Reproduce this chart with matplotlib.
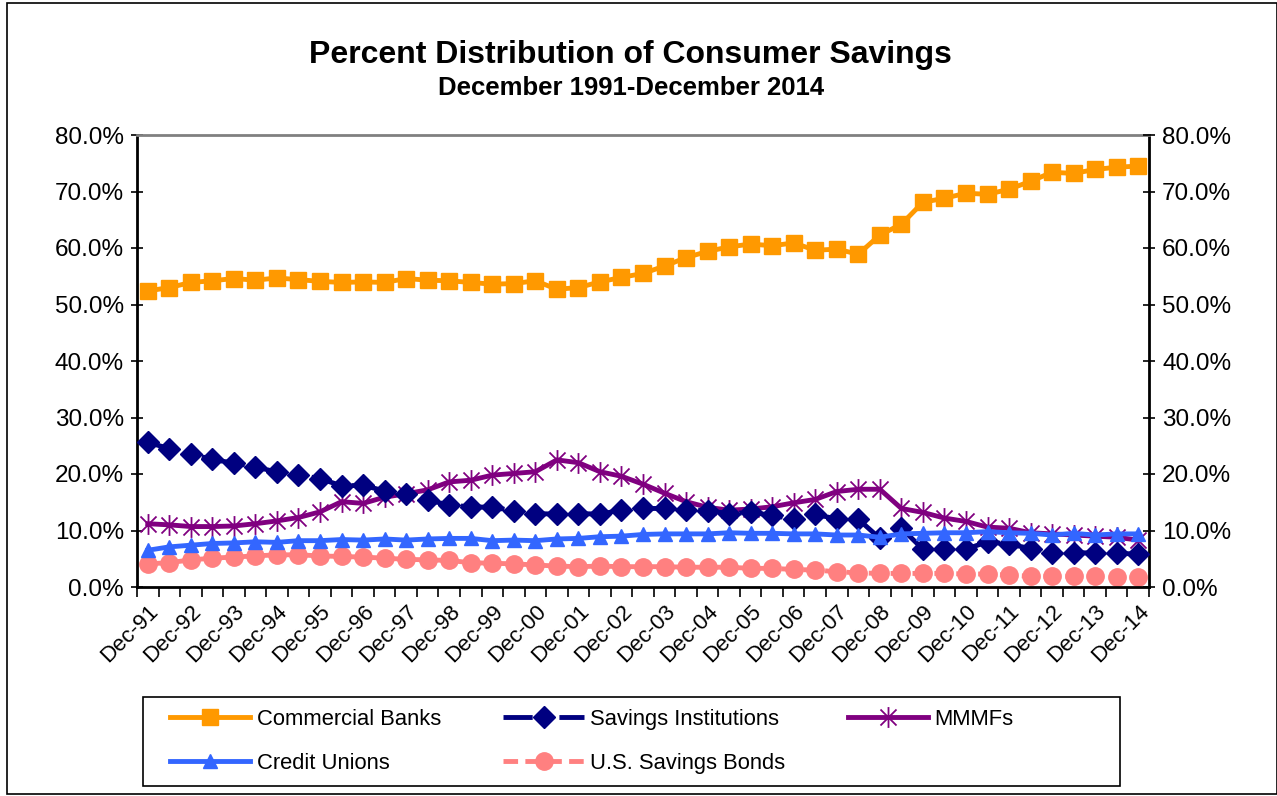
import matplotlib
matplotlib.use("Agg")
import matplotlib.pyplot as plt
import numpy as np
from matplotlib.path import Path
from matplotlib.patches import Rectangle
from matplotlib.ticker import FuncFormatter, FixedLocator

plt.rcParams['font.family'] = ['Liberation Sans', 'DejaVu Sans']

# semi-annual periods, Dec-91 .. Dec-14
years = list(range(91, 100)) + list(range(0, 15))
dec_labels = ['Dec-%02d' % y for y in years]

commercial_banks = [52.4, 53.0, 53.9, 54.2, 54.6, 54.3, 54.7, 54.4, 54.1, 53.9,
                    54.0, 53.9, 54.6, 54.3, 54.2, 53.9, 53.6, 53.7, 54.2, 52.7,
                    53.0, 54.0, 54.8, 55.5, 56.8, 58.3, 59.4, 60.2, 60.7, 60.4,
                    60.9, 59.6, 59.8, 58.9, 62.3, 64.2, 68.1, 68.8, 69.7, 69.5,
                    70.4, 71.8, 73.4, 73.2, 73.9, 74.3, 74.5]
savings_institutions = [25.6, 24.5, 23.5, 22.6, 21.9, 21.3, 20.3, 19.8, 19.2, 17.9,
                        18.0, 17.0, 16.5, 15.4, 14.5, 14.2, 14.1, 13.5, 13.0, 12.9,
                        13.0, 12.9, 13.6, 13.9, 13.9, 13.7, 13.5, 13.0, 13.2, 12.7,
                        12.0, 12.9, 12.0, 12.0, 8.6, 10.4, 6.7, 6.8, 6.7, 8.0,
                        7.6, 6.8, 6.0, 6.1, 6.0, 6.0, 5.8]
mmmfs = [11.2, 11.0, 10.7, 10.7, 10.8, 11.2, 11.7, 12.3, 13.3, 15.1,
         14.8, 15.9, 16.5, 17.2, 18.6, 18.9, 19.8, 20.1, 20.4, 22.5,
         22.0, 20.4, 19.6, 18.2, 16.6, 15.1, 14.1, 13.6, 13.8, 14.2,
         14.9, 15.5, 16.9, 17.3, 17.3, 13.9, 13.2, 12.2, 11.6, 10.6,
         10.4, 9.6, 9.4, 9.2, 9.0, 8.8, 8.3]
credit_unions = [6.5, 7.1, 7.4, 7.7, 7.8, 8.0, 7.9, 8.2, 8.2, 8.4,
                 8.3, 8.5, 8.3, 8.5, 8.6, 8.6, 8.2, 8.3, 8.2, 8.5,
                 8.6, 8.9, 9.0, 9.3, 9.4, 9.4, 9.4, 9.6, 9.5, 9.5,
                 9.4, 9.4, 9.2, 9.2, 8.8, 9.4, 9.5, 9.6, 9.6, 9.8,
                 9.6, 9.5, 9.2, 9.5, 9.2, 9.4, 9.4]
savings_bonds = [4.1, 4.3, 4.8, 5.1, 5.3, 5.5, 5.7, 5.7, 5.5, 5.4,
                 5.3, 5.1, 4.9, 4.8, 4.7, 4.3, 4.2, 4.1, 3.9, 3.7,
                 3.6, 3.7, 3.6, 3.6, 3.6, 3.5, 3.5, 3.5, 3.3, 3.3,
                 3.1, 3.0, 2.7, 2.5, 2.4, 2.4, 2.4, 2.4, 2.3, 2.3,
                 2.1, 1.9, 1.9, 1.9, 1.9, 1.8, 1.8]

x = np.arange(len(commercial_banks))

# excel style "star" marker: an x with a vertical bar through it
star = Path([(-1, -1), (1, 1), (-1, 1), (1, -1), (0, -1.3), (0, 1.3)],
            [Path.MOVETO, Path.LINETO, Path.MOVETO, Path.LINETO, Path.MOVETO, Path.LINETO])

W, H = 1277, 796
fig = plt.figure(figsize=(W / 100, H / 100), dpi=100)
ax = fig.add_axes([137 / W, 1 - 587 / H, (1149 - 137) / W, (587 - 135) / H])

l_cb, = ax.plot(x, commercial_banks, color='#FF9900', lw=3.5, marker='s', ms=12,
                mec='#FF9900', label='Commercial Banks', zorder=5)
l_si, = ax.plot(x, savings_institutions, color='#000080', lw=3.5, ls=(0, (6, 2.5, 0.5, 2.5)),
                marker='D', ms=11, mec='#000080', label='Savings Institutions', zorder=4)
l_mm, = ax.plot(x, mmmfs, color='#800080', lw=3.5, marker=star, ms=15, mew=1.3,
                mec='#800080', label='MMMFs', zorder=3)
l_cu, = ax.plot(x, credit_unions, color='#3366FF', lw=3.5, marker='^', ms=10.5,
                mec='#3366FF', label='Credit Unions', zorder=6)
l_sb, = ax.plot(x, savings_bonds, color='#FF8080', lw=3.5, ls=(0, (3, 1.5)), marker='o', ms=12.5,
                mec='#FF8080', label='U.S. Savings Bonds', zorder=2)

ax.set_xlim(-0.5, len(x) - 0.5)
ax.set_ylim(0, 80)
ax.yaxis.set_major_locator(FixedLocator(np.arange(0, 81, 10)))
pct = FuncFormatter(lambda v, p: '%.1f%%' % v)
ax.yaxis.set_major_formatter(pct)
ax.tick_params(axis='y', direction='inout', length=9, width=1.2, labelsize=17.5, pad=5)

ax.set_xticks(x[::2])
ax.set_xticklabels(dec_labels, rotation=45, ha='right', rotation_mode='anchor')
ax.set_xticks(np.arange(-0.5, len(x), 1), minor=True)
ax.tick_params(axis='x', which='major', length=0, labelsize=16, pad=10)
ax.tick_params(axis='x', which='minor', direction='out', length=7, width=1.2)

for side in ['left', 'right', 'bottom']:
    ax.spines[side].set_linewidth(2)
    ax.spines[side].set_color('black')
ax.spines['top'].set_color('#808080')
ax.spines['top'].set_linewidth(2)

ax2 = ax.twinx()
ax2.set_ylim(0, 80)
ax2.yaxis.set_major_locator(FixedLocator(np.arange(0, 81, 10)))
ax2.yaxis.set_major_formatter(pct)
ax2.tick_params(axis='y', direction='inout', length=9, width=1.2, labelsize=17.5, pad=5)
for sp in ax2.spines.values():
    sp.set_visible(False)

fig.text(0.494, 1 - 55 / H, 'Percent Distribution of Consumer Savings',
         ha='center', va='center', fontsize=23, fontweight='bold')
fig.text(0.494, 1 - 88 / H, 'December 1991-December 2014',
         ha='center', va='center', fontsize=18.5, fontweight='bold')

# legend: filled row by row like the original, box drawn separately
handles = [l_cb, l_cu, l_si, l_sb, l_mm]
leg = fig.legend(handles, [h.get_label() for h in handles], loc='upper left',
                 bbox_to_anchor=(170 / W, 1 - 709 / H), ncol=3, fontsize=15.8,
                 frameon=False, handlelength=3.65, handletextpad=0.3,
                 columnspacing=2.85, labelspacing=1.05, borderpad=0, borderaxespad=0)

fig.patches.append(Rectangle((143 / W, 1 - 786 / H), (1120 - 143) / W, 89 / H,
                             transform=fig.transFigure, fill=False,
                             edgecolor='black', lw=1.2))
fig.patches.append(Rectangle((7 / W, 2 / H), 1 - 7 / W, 1 - 5 / H,
                             transform=fig.transFigure, fill=False,
                             edgecolor='black', lw=1.2))

fig.savefig('out.png', dpi=100)
